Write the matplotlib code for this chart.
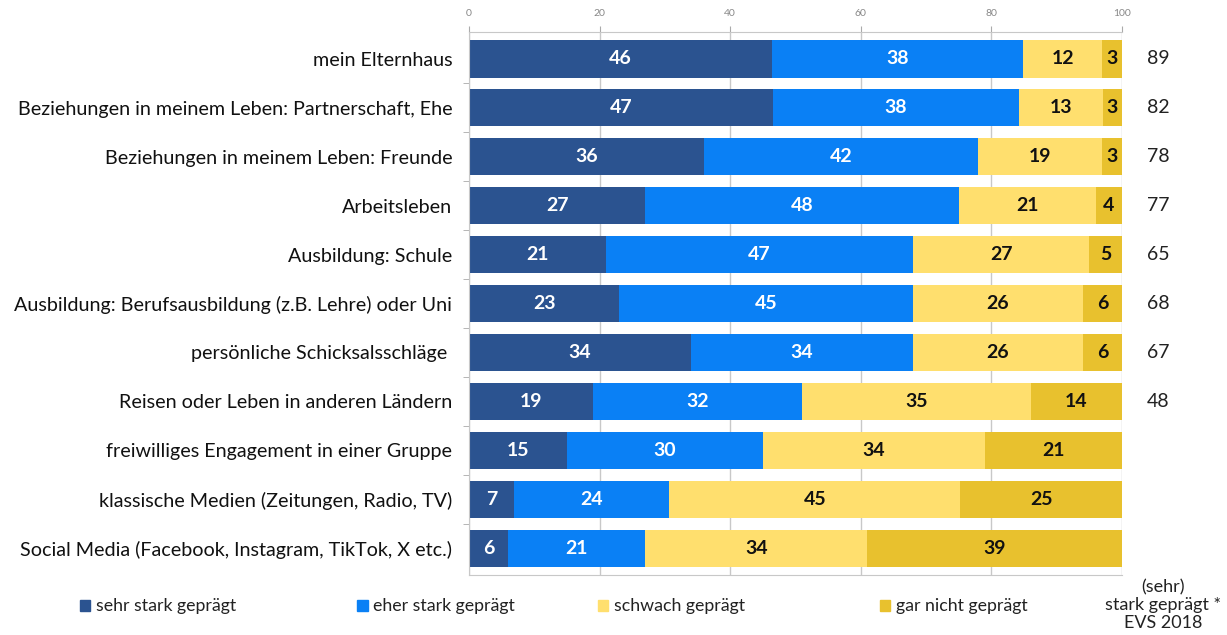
import numpy as np
import matplotlib.pyplot as plt
from matplotlib.patches import Patch

plt.rcParams['font.family'] = ['Lato', 'DejaVu Sans']

categories = [
    "mein Elternhaus",
    "Beziehungen in meinem Leben: Partnerschaft, Ehe",
    "Beziehungen in meinem Leben: Freunde",
    "Arbeitsleben",
    "Ausbildung: Schule",
    "Ausbildung: Berufsausbildung (z.B. Lehre) oder Uni",
    "persönliche Schicksalsschläge ",
    "Reisen oder Leben in anderen Ländern",
    "freiwilliges Engagement in einer Gruppe",
    "klassische Medien (Zeitungen, Radio, TV)",
    "Social Media (Facebook, Instagram, TikTok, X etc.)",
]
series = ["sehr stark geprägt", "eher stark geprägt", "schwach geprägt", "gar nicht geprägt"]
sehr_stark = [46, 47, 36, 27, 21, 23, 34, 19, 15, 7, 6]
eher_stark = [38, 38, 42, 48, 47, 45, 34, 32, 30, 24, 21]
schwach = [12, 13, 19, 21, 27, 26, 26, 35, 34, 45, 34]
gar_nicht = [3, 3, 3, 4, 5, 6, 6, 14, 21, 25, 39]
evs_2018 = [89, 82, 78, 77, 65, 68, 67, 48]

colors = ["#2B5390", "#0A80F5", "#FFDF6E", "#E8C12E"]
text_colors = ["white", "white", "#111111", "#111111"]

values = np.array([sehr_stark, eher_stark, schwach, gar_nicht], dtype=float)
# 100 % stacked: each row scaled to its own total
shares = values / values.sum(axis=0) * 100

fig = plt.figure(figsize=(12.27, 6.35), dpi=100)
ax = fig.add_axes([0.3822, 0.0945, 0.5322, 0.855])

y = np.arange(len(categories))
left = np.zeros(len(categories))
for k in range(4):
    ax.barh(y, shares[k], left=left, height=0.76, color=colors[k], zorder=2)
    for i in range(len(categories)):
        ax.text(left[i] + shares[k][i] / 2, y[i], f"{int(values[k][i])}",
                ha="center", va="center", fontsize=14, fontweight="bold",
                color=text_colors[k], zorder=3)
    left += shares[k]

for i, v in enumerate(evs_2018):
    ax.text(105.6, y[i], str(v), ha="center", va="center", fontsize=14,
            color="#222222", clip_on=False)
fig.text(0.948, 0.047, "(sehr)\nstark geprägt *\nEVS 2018", ha="center", va="center",
         fontsize=13, color="#222222", linespacing=1.15)

ax.set_xlim(0, 100)
ax.set_ylim(len(categories) - 0.45, -0.55)
ax.set_yticks(y)
ax.set_yticklabels(categories, fontsize=14.2, color="#111111")
ax.set_yticks(np.arange(len(categories) - 1) + 0.5, minor=True)
ax.tick_params(axis="y", which="major", length=0, pad=12)
ax.tick_params(axis="y", which="minor", length=4, color="#aaaaaa")

ax.set_xticks(np.arange(0, 101, 20))
ax.xaxis.tick_top()
ax.tick_params(axis="x", length=4, color="#aaaaaa", labelsize=7.5, labelcolor="#888888", pad=6)
ax.grid(axis="x", color="#c8c8c8", linewidth=1, zorder=0)
ax.set_axisbelow(True)
for side in ["top", "bottom", "left"]:
    ax.spines[side].set_color("#c8c8c8")
ax.spines["right"].set_visible(False)

legend_x = [0.052, 0.278, 0.474, 0.704]
for k in range(4):
    fig.legend(handles=[Patch(color=colors[k])], labels=[series[k]],
               loc="center left", bbox_to_anchor=(legend_x[k], 0.045), frameon=False,
               handlelength=0.6, handleheight=0.6, handletextpad=0.3,
               fontsize=12.8, labelcolor="#222222")

fig.savefig("out.png", dpi=100)
